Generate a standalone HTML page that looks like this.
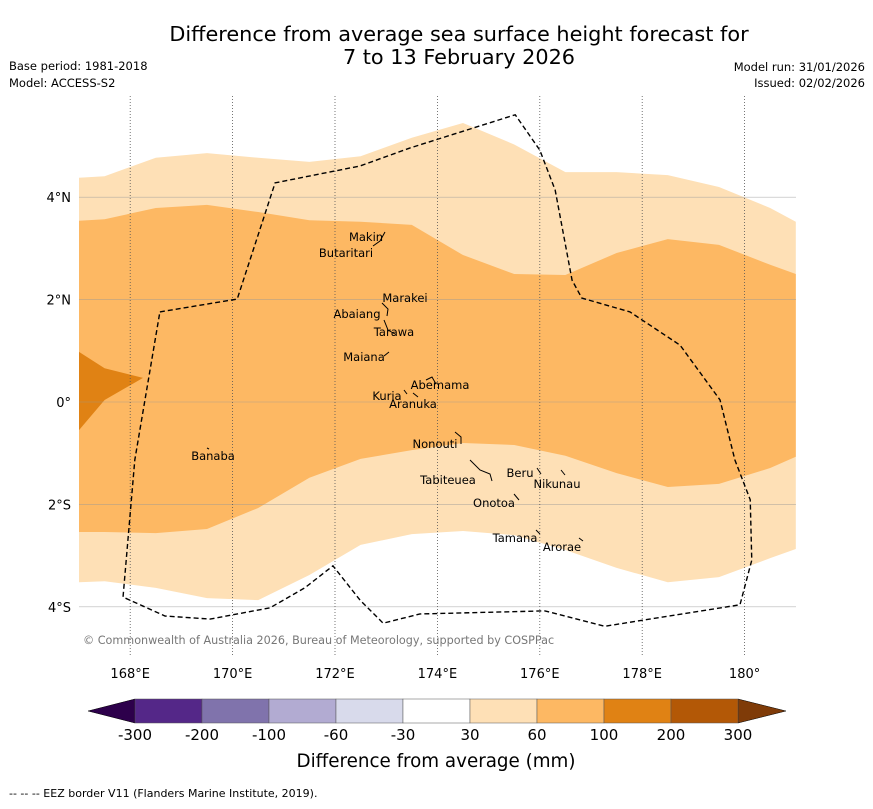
<!DOCTYPE html>
<html><head><meta charset="utf-8"><style>
body{margin:0;background:#fff;font-family:"Liberation Sans","DejaVu Sans",sans-serif}
svg text{font-family:"DejaVu Sans","Liberation Sans",sans-serif}
</style></head><body>
<svg id="c" width="873" height="804" xmlns="http://www.w3.org/2000/svg">
<text x="459" y="41" font-size="20.8" text-anchor="middle">Difference from average sea surface height forecast for</text>
<text x="459" y="64" font-size="20.8" text-anchor="middle">7 to 13 February 2026</text>
<text x="9" y="70" font-size="11.5">Base period: 1981-2018</text>
<text x="9" y="87" font-size="11.5">Model: ACCESS-S2</text>
<text x="865" y="71" font-size="11.5" text-anchor="end">Model run: 31/01/2026</text>
<text x="865" y="87" font-size="11.5" text-anchor="end">Issued: 02/02/2026</text>
<g id="map"></g>
<g id="cb"></g>
<text x="436" y="767" font-size="18.3" text-anchor="middle">Difference from average (mm)</text>
<text x="9" y="797" font-size="11">--  --  -- EEZ border V11 (Flanders Marine Institute, 2019).</text>
</svg>
<script>
const lons=[167,167.5,168.5,169.5,170.5,171.5,172.5,173.5,174.5,175.5,176.5,177.5,178.5,179.5,180.5,181];
const lightTop=[4.38,4.41,4.77,4.86,4.77,4.69,4.80,5.16,5.45,5.03,4.49,4.49,4.43,4.20,3.79,3.52];
const lightBottom=[-3.52,-3.50,-3.63,-3.83,-3.87,-3.38,-2.79,-2.58,-2.52,-2.60,-2.89,-3.24,-3.52,-3.42,-3.05,-2.87];
const orangeTop=[3.54,3.57,3.79,3.85,3.71,3.55,3.52,3.46,2.87,2.50,2.48,2.91,3.18,3.07,2.68,2.50];
const orangeBottom=[-2.54,-2.54,-2.56,-2.48,-2.07,-1.48,-1.11,-0.94,-0.80,-0.84,-1.05,-1.39,-1.66,-1.60,-1.29,-1.07];
const darkLon=[167,167.5,168.25,167.5,167];
const darkLat=[0.98,0.66,0.47,0.04,-0.55];
const eezLon=[168.58,170.09,170.83,172.49,173.46,175.52,176.00,176.30,176.63,176.82,177.76,178.74,179.52,179.81,180.11,180.14,179.91,177.27,176.10,173.66,172.94,172.49,171.96,171.41,170.73,169.56,168.68,167.86,168.09];
const eezLat=[1.76,2.01,4.28,4.61,4.96,5.61,4.92,4.14,2.38,2.03,1.76,1.11,0.04,-1.13,-1.91,-3.09,-3.96,-4.38,-4.08,-4.14,-4.32,-3.87,-3.20,-3.63,-4.02,-4.24,-4.18,-3.81,-1.13];
const lonTicks=[168,170,172,174,176,178,180];
const lonLabels=["168°E","170°E","172°E","174°E","176°E","178°E","180°"];
const latTicks=[4,2,0,-2,-4];
const latLabels=["4°N","2°N","0°","2°S","4°S"];
const cbLabels=["-300","-200","-100","-60","-30","30","60","100","200","300"];
const cbColors=["#542788","#8073ac","#b2abd2","#d8daeb","#ffffff","#fee0b6","#fdb863","#e08214","#b35806"];
const islands=[["Makin",366,241],["Butaritari",346,257],["Marakei",405,302],["Abaiang",357,318],["Tarawa",394,336],["Maiana",364,361],["Abemama",440,389],["Kuria",387,400],["Aranuka",413,408],["Nonouti",435,448],["Banaba",213,460],["Tabiteuea",448,484],["Beru",520,477],["Nikunau",557,488],["Onotoa",494,507],["Tamana",515,542],["Arorae",562,551]];
const coasts=["M373,246L380,241L385,232","M382,303L388,309L387,316","M384,320L388,330L395,334","M384,356L389,352","M426,380L432,377L436,384","M404,390L407,394","M413,393L418,397","M455,432L461,437L461,444","M470,460L480,470L490,474L492,481","M537,468L541,474","M561,470L565,475","M514,494L519,500","M536,530L540,534","M579,538L583,541","M207,448L209,449"];
const X0=79,X1=796,Y0=96,Y1=656;
const x=l=>X0+(l-167)*51.2, y=a=>402-a*51.2;
const NS="http://www.w3.org/2000/svg";
const map=document.getElementById('map');
function mk(t,at,p){const e=document.createElementNS(NS,t);for(const k in at)e.setAttribute(k,at[k]);(p||map).appendChild(e);return e;}
function band(top,bot,fill,name){
 let d=top.map((v,i)=>(i?'L':'M')+x(lons[i])+','+y(v)).join('');
 for(let i=lons.length-1;i>=0;i--)d+='L'+x(lons[i])+','+y(bot[i]);
 const e=mk('path',{d:d+'Z',fill:fill});
 
 
}
band(lightTop,lightBottom,'#fee0b6','band-30-60');
band(orangeTop,orangeBottom,'#fdb863','band-60-100');
const dk=mk('path',{d:darkLon.map((v,i)=>(i?'L':'M')+x(v)+','+y(darkLat[i])).join('')+'Z',fill:'#e08214'});


latTicks.forEach((t,i)=>{
 mk('line',{x1:X0,x2:X1,y1:y(t),y2:y(t),stroke:'#999','stroke-width':0.6,'stroke-opacity':0.7});
 const tx=mk('text',{x:71,y:y(t)+5,'font-size':13,'text-anchor':'end'});tx.textContent=latLabels[i];
 
 
});
lonTicks.forEach((t,i)=>{
 mk('line',{x1:x(t),x2:x(t),y1:Y0,y2:Y1,stroke:'#555','stroke-width':0.8,'stroke-dasharray':'1,2'});
 const tx=mk('text',{x:x(t),y:678,'font-size':13,'text-anchor':'middle'});tx.textContent=lonLabels[i];
 
 
});
coasts.forEach(d=>{
 const c=mk('path',{d:d,fill:'none',stroke:'#000','stroke-width':1});
 
 
});
const ez=mk('path',{d:eezLon.map((v,i)=>(i?'L':'M')+x(v)+','+y(eezLat[i])).join('')+'Z',fill:'none',stroke:'#000','stroke-width':1.4,'stroke-dasharray':'5,3'});


islands.forEach(s=>{
 const t=mk('text',{x:s[1],y:s[2],'font-size':11.5,'text-anchor':'middle'});t.textContent=s[0];
 
 
});
const cp=mk('text',{x:83,y:644,'font-size':11.2,fill:'#777'});cp.textContent='© Commonwealth of Australia 2026, Bureau of Meteorology, supported by COSPPac';


const cb=document.getElementById('cb');
const cx0=135,cw=67,cy=699,ch=24;
mk('path',{d:`M${cx0},${cy}L88,${cy+ch/2}L${cx0},${cy+ch}Z`,fill:'#2d004b',stroke:'#000','stroke-width':0.5},cb);
const endX=cx0+cw*cbColors.length;
mk('path',{d:`M${endX},${cy}L786,${cy+ch/2}L${endX},${cy+ch}Z`,fill:'#7f3b08',stroke:'#000','stroke-width':0.5},cb);
cbColors.forEach((c,i)=>{
 const r=mk('rect',{x:cx0+i*cw,y:cy,width:cw,height:ch,fill:c,stroke:'#555','stroke-width':0.5},cb);
 
 
});
cbLabels.forEach((l,i)=>{
 const t=mk('text',{x:cx0+i*cw,y:740,'font-size':15,'text-anchor':'middle'},cb);t.textContent=l;
 
 
});
</script>
</body></html>
